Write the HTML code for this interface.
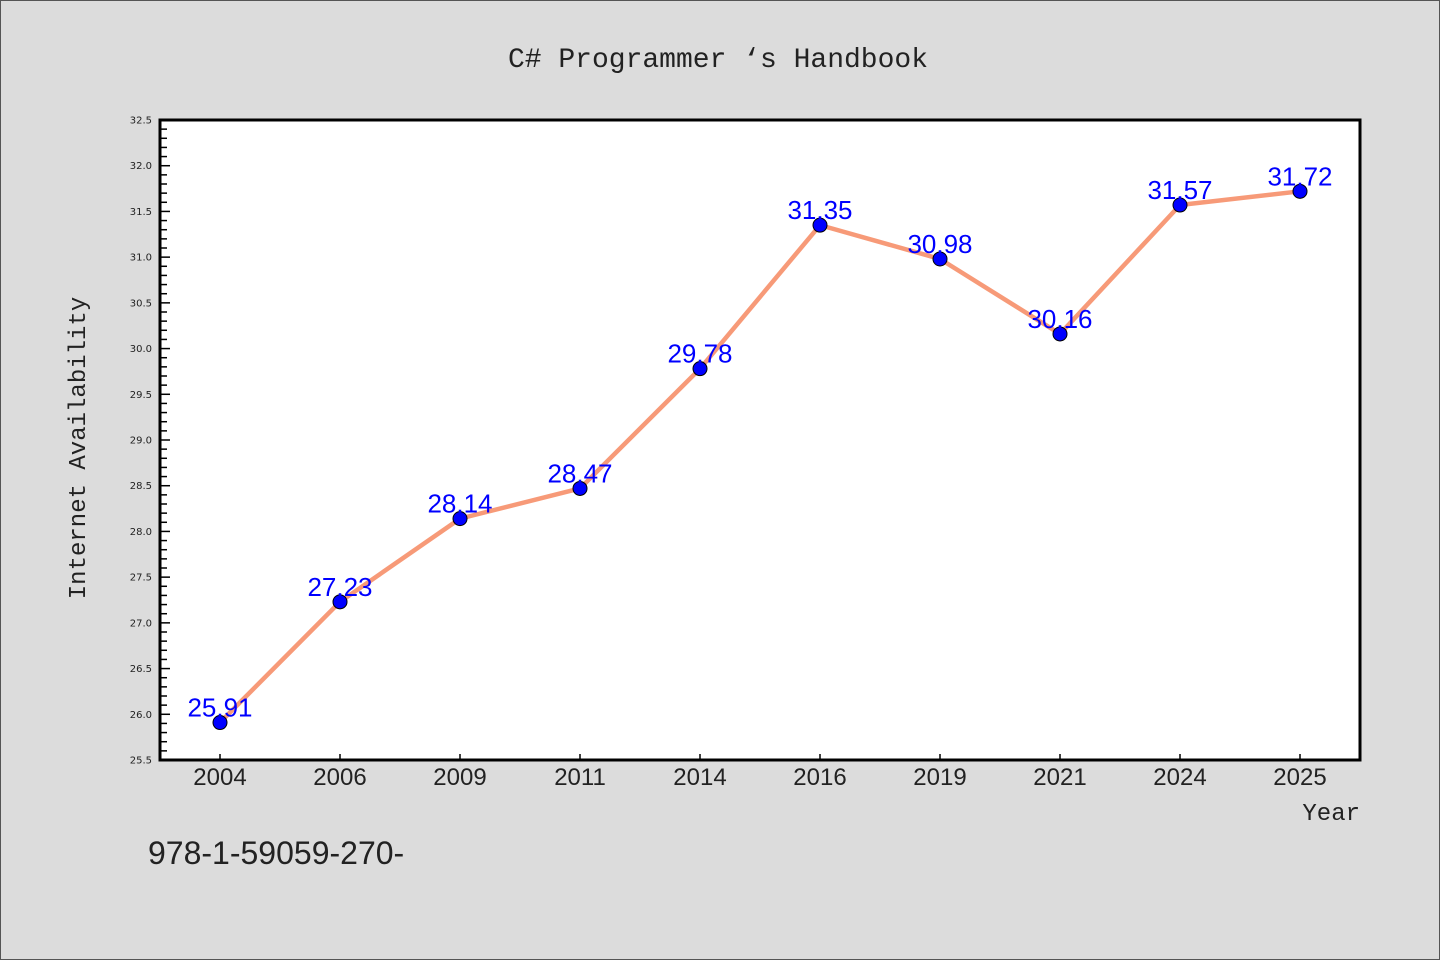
<!DOCTYPE html>
<html><head><meta charset="utf-8"><style>
html,body{margin:0;padding:0;background:#dcdcdc;}
svg{display:block;font-family:"Liberation Mono","DejaVu Sans Mono",monospace;}
</style></head><body>
<svg id="chart" width="1440" height="960">
<rect x="0.5" y="0.5" width="1439" height="959" fill="#dcdcdc" stroke="#555"/>
<text x="718" y="67" text-anchor="middle" font-size="28" fill="#222">C# Programmer ‘s Handbook</text>
<rect x="160" y="120" width="1200" height="640" fill="#fff"/>
<g id="yticks"></g><g id="xticks"></g>
<rect x="160" y="120" width="1200" height="640" fill="none" stroke="#000" stroke-width="3"/>
<g id="series"></g>
<text transform="translate(85,448) rotate(-90)" text-anchor="middle" font-size="24" fill="#222">Internet Availability</text>
<text x="1360" y="820" text-anchor="end" font-size="24" fill="#222">Year</text>
<text x="148" y="864" font-size="32" fill="#222" font-family="Liberation Sans, sans-serif">978-1-59059-270-</text>
</svg>
<script>
const categories=["2004","2006","2009","2011","2014","2016","2019","2021","2024","2025"];
const values=[25.91,27.23,28.14,28.47,29.78,31.35,30.98,30.16,31.57,31.72];
const labels=["25.91","27.23","28.14","28.47","29.78","31.35","30.98","30.16","31.57","31.72"];
const yMin=25.5,yMax=32.5;
const L=160,R=1360,T=120,B=760;
const NS="http://www.w3.org/2000/svg";
function y(v){return B-(v-yMin)/(yMax-yMin)*(B-T);}
function x(i){const bw=(R-L)/categories.length;return L+bw*(i+0.5);}
function mk(tag,a,p){const e=document.createElementNS(NS,tag);for(const k in a)e.setAttribute(k,a[k]);p.appendChild(e);return e;}
const yt=document.getElementById('yticks');
for(let k=0;k<=70;k++){const v=yMin+k*0.1;const yy=y(v);const major=k%5===0;
const t=mk('line',{x1:L,x2:L+(major?10:7),y1:yy,y2:yy,stroke:'#000','stroke-width':1.5},yt);


if(major){const tx=mk('text',{x:152,y:yy+3.5,'text-anchor':'end','font-size':10,fill:'#222','font-family':'DejaVu Sans, sans-serif'},yt);tx.textContent=v.toFixed(1);

}}
const xt=document.getElementById('xticks');
categories.forEach((c,i)=>{const t=mk('line',{x1:x(i),x2:x(i),y1:B,y2:B-6,stroke:'#000','stroke-width':1.5},xt);


const tx=mk('text',{x:x(i),y:785,'text-anchor':'middle','font-size':24,fill:'#222','font-family':'Liberation Sans, sans-serif'},xt);tx.textContent=c;

});
const s=document.getElementById('series');
const pl=mk('polyline',{points:values.map((v,i)=>x(i)+','+y(v)).join(' '),fill:'none',stroke:'#f79a78','stroke-width':4.5,'stroke-linejoin':'round'},s);


values.forEach((v,i)=>{const c=mk('circle',{cx:x(i),cy:y(v),r:7,fill:'#0000ff',stroke:'#000','stroke-width':1},s);


const t=mk('text',{x:x(i),y:y(v)-6,'text-anchor':'middle','font-size':26,fill:'#0000ff','font-family':'Liberation Sans, sans-serif'},s);t.textContent=labels[i];

});
</script>
</body></html>
